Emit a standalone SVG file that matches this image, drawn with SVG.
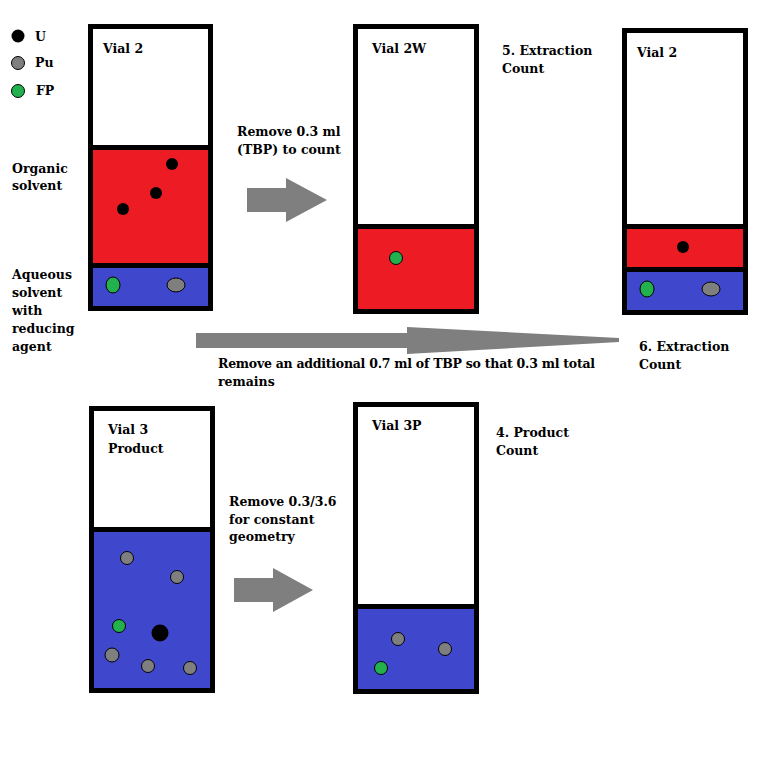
<svg xmlns="http://www.w3.org/2000/svg" width="768" height="759" viewBox="0 0 768 759">
<style>
text{font-family:"DejaVu Serif","Liberation Serif",serif;font-weight:bold;font-size:12.5px;fill:#000}
.vial{fill:none;stroke:#000;stroke-width:5}
.div{stroke:#000;stroke-width:5}
.red{fill:#ED1C24}
.blue{fill:#3F48CC}
.u{fill:#000}
.pu{fill:#7F7F7F;stroke:#000;stroke-width:1}
.fp{fill:#22B14C;stroke:#000;stroke-width:1}
.arrow{fill:#7F7F7F}
</style>
<rect width="768" height="759" fill="#fff"/>

<g id="legend">
<circle class="u" cx="18" cy="36" r="6.5"/>
<circle class="pu" cx="18" cy="63" r="6.5"/>
<circle class="fp" cx="18" cy="91" r="6.5"/>
<text x="35" y="41">U</text>
<text x="35" y="67">Pu</text>
<text x="36" y="95">FP</text>
</g>

<g id="side-labels">
<text x="12" y="173">Organic</text>
<text x="12" y="190">solvent</text>
<text x="12" y="279">Aqueous</text>
<text x="12" y="297">solvent</text>
<text x="12" y="315">with</text>
<text x="12" y="333">reducing</text>
<text x="12" y="351">agent</text>
</g>

<g id="vial2">
<rect x="93" y="29" width="115" height="277" fill="#fff"/>
<rect class="red" x="93" y="150" width="115" height="113"/>
<rect class="blue" x="93" y="268" width="115" height="38"/>
<line class="div" x1="90" y1="147.5" x2="211" y2="147.5"/>
<line class="div" x1="90" y1="265.5" x2="211" y2="265.5"/>
<rect class="vial" x="90.5" y="26.5" width="120" height="282"/>
<circle class="u" cx="172" cy="164" r="6"/>
<circle class="u" cx="156" cy="193" r="6"/>
<circle class="u" cx="123" cy="209" r="6"/>
<ellipse class="fp" cx="113" cy="285" rx="7" ry="8"/>
<ellipse class="pu" cx="176" cy="285" rx="9" ry="7"/>
<text x="103" y="53">Vial 2</text>
</g>

<g id="vial2w">
<rect x="358" y="29" width="116" height="280" fill="#fff"/>
<rect class="red" x="358" y="229" width="116" height="80"/>
<line class="div" x1="355" y1="226.5" x2="477" y2="226.5"/>
<rect class="vial" x="355.5" y="26.5" width="121" height="285"/>
<circle class="fp" cx="396" cy="258" r="6.5"/>
<text x="372" y="53">Vial 2W</text>
</g>

<g id="label5">
<text x="502" y="55">5. Extraction</text>
<text x="502" y="73">Count</text>
</g>

<g id="vial2-right">
<rect x="627" y="33" width="116" height="277" fill="#fff"/>
<rect class="red" x="627" y="229" width="116" height="38"/>
<rect class="blue" x="627" y="272" width="116" height="38"/>
<line class="div" x1="624" y1="226.5" x2="746" y2="226.5"/>
<line class="div" x1="624" y1="269.5" x2="746" y2="269.5"/>
<rect class="vial" x="624.5" y="30.5" width="121" height="282"/>
<circle class="u" cx="683" cy="247" r="6"/>
<ellipse class="fp" cx="647" cy="289" rx="7" ry="8"/>
<ellipse class="pu" cx="711" cy="289" rx="9" ry="7"/>
<text x="637" y="57">Vial 2</text>
</g>

<g id="label6">
<text x="639" y="351">6. Extraction</text>
<text x="639" y="369">Count</text>
</g>

<g id="vial3">
<rect x="94" y="411" width="116" height="277" fill="#fff"/>
<rect class="blue" x="94" y="532" width="116" height="156"/>
<line class="div" x1="91" y1="529.5" x2="213" y2="529.5"/>
<rect class="vial" x="91.5" y="408.5" width="121" height="282"/>
<circle class="pu" cx="127" cy="558" r="6.5"/>
<circle class="pu" cx="177" cy="577" r="6.5"/>
<circle class="fp" cx="119" cy="626" r="6.5"/>
<circle class="u" cx="160" cy="633" r="8.5"/>
<circle class="pu" cx="112" cy="655" r="7"/>
<circle class="pu" cx="148" cy="666" r="6.5"/>
<circle class="pu" cx="190" cy="668" r="6.5"/>
<text x="108" y="434">Vial 3</text>
<text x="108" y="453">Product</text>
</g>

<g id="vial3p">
<rect x="358" y="407" width="116" height="282" fill="#fff"/>
<rect class="blue" x="358" y="609" width="116" height="80"/>
<line class="div" x1="355" y1="606.5" x2="477" y2="606.5"/>
<rect class="vial" x="355.5" y="404.5" width="121" height="287"/>
<circle class="pu" cx="398" cy="639" r="6.5"/>
<circle class="pu" cx="445" cy="649" r="6.5"/>
<circle class="fp" cx="381" cy="668" r="6.5"/>
<text x="372" y="430">Vial 3P</text>
</g>

<g id="label4">
<text x="496" y="437">4. Product</text>
<text x="496" y="455">Count</text>
</g>

<g id="connectors">
<polygon class="arrow" points="247,188 286,188 286,178 327,200 286,222 286,212 247,212"/>
<polygon class="arrow" points="196,333 407,333 407,327 619,338 619,342 407,354 407,348 196,348"/>
<polygon class="arrow" points="234,578 273,578 273,568 313,590 273,612 273,602 234,602"/>
<text x="237" y="136">Remove 0.3 ml</text>
<text x="237" y="154">(TBP) to count</text>
<text x="218" y="368" textLength="377" lengthAdjust="spacing">Remove an additional 0.7 ml of TBP so that 0.3 ml total</text>
<text x="218" y="386">remains</text>
<text x="229" y="506">Remove 0.3/3.6</text>
<text x="229" y="524">for constant</text>
<text x="229" y="541">geometry</text>
</g>
</svg>
